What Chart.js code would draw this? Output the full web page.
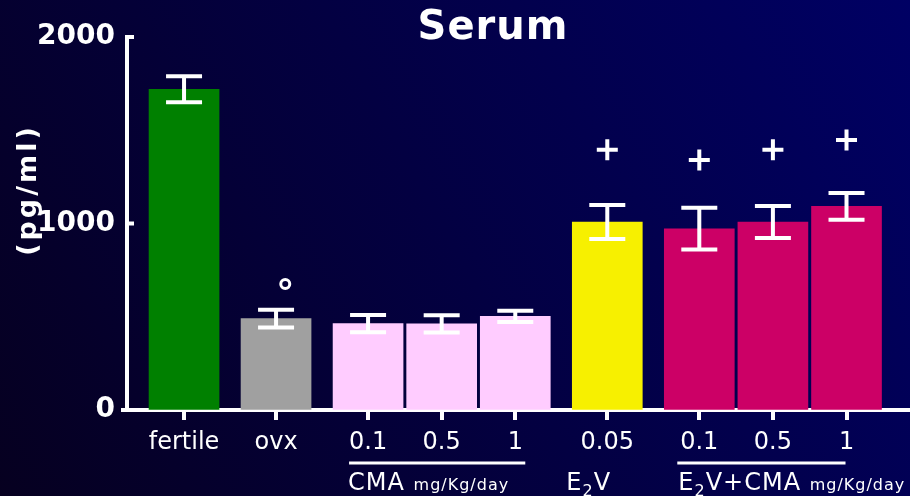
<!DOCTYPE html>
<html>
<head>
<meta charset="utf-8">
<script src="https://cdn.jsdelivr.net/npm/chart.js@4/dist/chart.umd.min.js"></script>
<style>
html,body{margin:0;padding:0;background:#03002a;}
#wrap{position:relative;width:910px;height:496px;}
</style>
</head>
<body>
<div id="wrap"><canvas id="c"></canvas></div>
<script>
// ---- data ----
const categories = ['fertile', 'ovx', '0.1', '0.5', '1', '0.05', '0.1', '0.5', '1'];
const groupOf = [0, 1, 2, 2, 2, 3, 4, 4, 4];
const means = [1720, 490, 463, 462, 502, 1008, 972, 1008, 1092];
const sems = [70, 48, 46, 46, 30, 91, 112, 86, 72];
const plusMarks = [null, null, null, null, null, 1395, 1340, 1395, 1448];
const degreeMarks = [null, 676, null, null, null, null, null, null, null];
const yTicks = [0, 1000, 2000];
const barColors = ['#008000', '#a0a0a0', '#ffccff', '#ffccff', '#ffccff', '#f7f000', '#cc0066', '#cc0066', '#cc0066'];

// layout: slot positions (same group step 4, new group step 5)
const positions = [];
groupOf.forEach((g, i) => {
  if (i === 0) positions.push(0);
  else positions.push(positions[i - 1] + (g === groupOf[i - 1] ? 4 : 5));
});

const FONT = "'DejaVu Sans', Verdana, sans-serif";

const bgPlugin = {
  id: 'bg',
  beforeDraw(chart) {
    const ctx = chart.ctx, w = chart.width, h = chart.height;
    const g = ctx.createLinearGradient(0, h, w, 0);
    g.addColorStop(0, '#060020');
    g.addColorStop(1, '#000064');
    ctx.save();
    ctx.fillStyle = g;
    ctx.fillRect(0, 0, w, h);
    ctx.restore();
  }
};

const errPlugin = {
  id: 'errs',
  afterDatasetsDraw(chart) {
    const ctx = chart.ctx;
    const meta = chart.getDatasetMeta(0);
    const ys = chart.scales.y;
    ctx.save();
    ctx.strokeStyle = '#ffffff';
    ctx.lineWidth = 4;
    meta.data.forEach((bar, i) => {
      const x = bar.x;
      const yt = ys.getPixelForValue(means[i] + sems[i]);
      const yb = ys.getPixelForValue(means[i] - sems[i]);
      ctx.beginPath();
      ctx.moveTo(x, yt); ctx.lineTo(x, yb);
      ctx.moveTo(x - 18, yt); ctx.lineTo(x + 18, yt);
      ctx.moveTo(x - 18, yb); ctx.lineTo(x + 18, yb);
      ctx.stroke();
    });
    // inward y-axis tick stubs
    const left = chart.chartArea.left;
    ctx.lineWidth = 4;
    ctx.beginPath();
    yTicks.forEach(v => {
      if (v === 0) return;
      const y = ys.getPixelForValue(v);
      ctx.moveTo(left, y); ctx.lineTo(left + 7, y);
    });
    ctx.moveTo(left - 6, ys.getPixelForValue(0)); ctx.lineTo(left, ys.getPixelForValue(0));
    ctx.stroke();
    ctx.restore();
  }
};

const textPlugin = {
  id: 'texts',
  afterDraw(chart) {
    const ctx = chart.ctx;
    const xs = chart.scales.x;
    ctx.save();
    ctx.fillStyle = '#ffffff';
    ctx.strokeStyle = '#ffffff';
    // title
    ctx.font = 'bold 40px ' + FONT;
    ctx.textAlign = 'center';
    ctx.textBaseline = 'middle';
    ctx.letterSpacing = '1px';
    ctx.fillText('Serum', 493, 29);
    // y label
    ctx.save();
    ctx.translate(29, 192);
    ctx.rotate(-Math.PI / 2);
    ctx.font = 'bold 27px ' + FONT;
    ctx.letterSpacing = '3px';
    ctx.fillText('(pg/ml)', 2, 0);
    ctx.restore();
    // group labels
    ctx.textAlign = 'left';
    ctx.textBaseline = 'alphabetic';
    ctx.letterSpacing = '1px';
    const base = 490;
    const big = '24px ' + FONT, small = '16px ' + FONT;
    function runs(x, parts) {
      parts.forEach(p => {
        ctx.font = p[1];
        ctx.fillText(p[0], x, base + (p[2] || 0));
        x += ctx.measureText(p[0]).width;
      });
    }
    const xCMA0 = xs.getPixelForValue(positions[2]);
    const xCMA2 = xs.getPixelForValue(positions[4]);
    const xE = xs.getPixelForValue(positions[5]);
    const xEC0 = xs.getPixelForValue(positions[6]);
    const xEC2 = xs.getPixelForValue(positions[8]);
    ctx.lineWidth = 3;
    ctx.beginPath();
    ctx.moveTo(xCMA0 - 19, 463); ctx.lineTo(xCMA2 + 10, 463);
    ctx.moveTo(xEC0 - 22, 463); ctx.lineTo(xEC2 - 1, 463);
    ctx.stroke();
    runs(xCMA0 - 20, [['CMA', big], [' ', big], ['mg/Kg/day', small]]);
    runs(xE - 41, [['E', big], ['2', small, 6], ['V', big]]);
    runs(xEC0 - 21, [['E', big], ['2', small, 6], ['V', big], ['+', big], ['CMA', big], [' ', big], ['mg/Kg/day', small]]);
    ctx.restore();
  }
};

new Chart(document.getElementById('c'), {
  data: {
    datasets: [
      {
        type: 'bar',
        data: means.map((m, i) => ({ x: positions[i], y: m })),
        backgroundColor: barColors,
        borderWidth: 0,
        barThickness: 70,
        order: 2
      },
      {
        type: 'scatter',
        data: plusMarks.map((v, i) => ({ x: positions[i], y: v })).filter(d => d.y !== null),
        pointStyle: 'cross',
        radius: 10.5,
        borderWidth: 4,
        borderColor: '#ffffff',
        backgroundColor: '#ffffff',
        order: 1
      },
      {
        type: 'scatter',
        data: degreeMarks.map((v, i) => ({ x: positions[i] + 0.5, y: v })).filter(d => d.y !== null),
        pointStyle: 'circle',
        radius: 4.5,
        borderWidth: 3,
        borderColor: '#ffffff',
        backgroundColor: 'rgba(0,0,0,0)',
        order: 1
      }
    ]
  },
  options: {
    responsive: true,
    maintainAspectRatio: false,
    animation: false,
    events: [],
    layout: { autoPadding: false, padding: { top: 37, left: 0, right: 0, bottom: 0 } },
    plugins: { legend: { display: false }, tooltip: { enabled: false }, title: { display: false } },
    scales: {
      x: {
        type: 'linear',
        offset: false,
        min: -3.1,
        max: 39.45,
        afterFit: s => { s.height = 86; },
        afterBuildTicks: s => { s.ticks = positions.map(p => ({ value: p })); },
        border: { display: true, color: '#ffffff', width: 4 },
        grid: { offset: false, drawOnChartArea: false, drawTicks: true, color: '#ffffff', lineWidth: 4, tickLength: 10 },
        ticks: {
          autoSkip: false,
          maxRotation: 0,
          color: '#ffffff',
          padding: 8,
          font: { family: FONT, size: 24 },
          callback: (v, i) => categories[i]
        }
      },
      y: {
        type: 'linear',
        min: 0,
        max: 2000,
        afterFit: s => { s.width = 127; },
        afterBuildTicks: s => { s.ticks = yTicks.map(v => ({ value: v })); },
        border: { display: true, color: '#ffffff', width: 4 },
        grid: { drawOnChartArea: false, drawTicks: false },
        ticks: {
          color: '#ffffff',
          padding: 12,
          font: { family: FONT, size: 28, weight: 'bold' },
          callback: v => String(v)
        }
      }
    }
  },
  plugins: [bgPlugin, errPlugin, textPlugin]
});
</script>
</body>
</html>
